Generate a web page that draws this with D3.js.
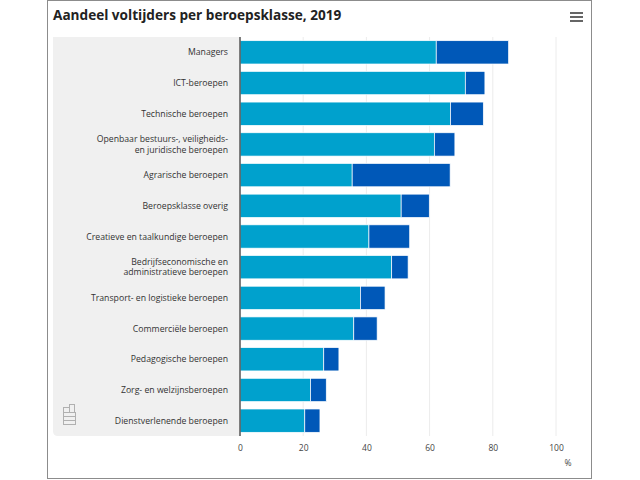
<!DOCTYPE html>
<html>
<head>
<meta charset="utf-8">
<script src="https://cdn.jsdelivr.net/npm/d3@7"></script>
<style>
  body { margin: 0; background: #fff; }
  svg { display: block; font-family: "Open Sans", sans-serif; }
</style>
</head>
<body>
<svg></svg>
<script>
const width = 640
const height = 480

// categories top to bottom
const categories = [
    "Managers",
    "ICT-beroepen",
    "Technische beroepen",
    "Openbaar bestuurs-, veiligheids-|en juridische beroepen",
    "Agrarische beroepen",
    "Beroepsklasse overig",
    "Creatieve en taalkundige beroepen",
    "Bedrijfseconomische en|administratieve beroepen",
    "Transport- en logistieke beroepen",
    "Commerciële beroepen",
    "Pedagogische beroepen",
    "Zorg- en welzijnsberoepen",
    "Dienstverlenende beroepen"
]

// light segment (first series) and dark segment (second series), in %
const series1 = [62.1, 71.3, 66.6, 61.5, 35.5, 51.0, 40.8, 48.0, 38.1, 36.0, 26.5, 22.3, 20.5]
const series2 = [22.9, 6.2, 10.4, 6.5, 31.0, 8.9, 12.9, 5.2, 7.8, 7.4, 4.8, 5.0, 4.8]
const xTicks = [0, 20, 40, 60, 80, 100]

const colors = ["#00a1cd", "#0058b8"]

const marginLeft = 240
const marginRight = 84
const plotTop = 37
const plotBottom = 436

const svg = d3.select("svg")
    .attr("width", width)
    .attr("height", height)

// frame
svg.append("rect")
    .attr("x", 47.5).attr("y", 0.5)
    .attr("width", 544).attr("height", 478)
    .attr("fill", "none")
    .attr("stroke", "#8c8c8c")

// title
svg.append("text")
    .attr("x", 53).attr("y", 20)
    .attr("font-size", "13.6px")
    .attr("font-weight", "bold")
    .attr("fill", "#222")
    .text("Aandeel voltijders per beroepsklasse, 2019")

// menu icon
svg.append("g").selectAll("rect")
    .data([0, 1, 2])
    .join("rect")
    .attr("x", 570).attr("y", d => 12 + d * 4)
    .attr("width", 13).attr("height", 2)
    .attr("fill", "#666")

// category panel
svg.append("path")
    .attr("d", `M53,${plotTop} H${marginLeft} V${plotBottom} H58 Q53,${plotBottom} 53,${plotBottom - 5} Z`)
    .attr("fill", "#f0f0f0")

const x = d3.scaleLinear()
    .domain([0, 100])
    .range([marginLeft, width - marginRight])

const y = d3.scaleBand()
    .domain(categories)
    .range([plotTop, plotBottom])
    .paddingInner(0.24)
    .paddingOuter(0.12)

// grid lines
svg.append("g").selectAll("line")
    .data(xTicks.slice(1))
    .join("line")
    .attr("x1", d => x(d)).attr("x2", d => x(d))
    .attr("y1", plotTop).attr("y2", plotBottom)
    .attr("stroke", "#ececec")

// stacked bars
const rows = categories.map((c, i) => ({cat: c, a: series1[i], b: series2[i]}))
const stack = d3.stack().keys(["a", "b"])(rows)

svg.append("g").selectAll("g")
    .data(stack)
    .join("g")
    .attr("fill", (d, i) => colors[i])
    .selectAll("rect")
    .data(d => d)
    .join("rect")
    .attr("x", d => x(d[0]))
    .attr("y", d => y(d.data.cat))
    .attr("width", d => x(d[1]) - x(d[0]))
    .attr("height", y.bandwidth())
    .attr("stroke", "#fff")
    .attr("stroke-width", 0.7)

// axis line
svg.append("line")
    .attr("x1", marginLeft).attr("x2", marginLeft)
    .attr("y1", plotTop).attr("y2", plotBottom)
    .attr("stroke", "#555")
    .attr("stroke-width", 1.5)

// category labels
const labels = svg.append("g")
    .attr("font-size", "8.7px")
    .attr("fill", "#333")
    .attr("text-anchor", "end")
    .selectAll("text")
    .data(categories)
    .join("text")
    .attr("x", 228)
    .attr("y", d => y(d) + y.bandwidth() / 2)

labels.each(function(d) {
    const parts = d.split("|")
    const t = d3.select(this)
    parts.forEach((p, i) => {
        t.append("tspan")
            .attr("x", 228)
            .attr("dy", i === 0 ? `${0.35 - (parts.length - 1) * 0.6}em` : "1.2em")
            .text(p)
    })
})

// x axis
const xAxis = d3.axisBottom(x).tickValues(xTicks).tickSize(0).tickPadding(6)
const ax = svg.append("g")
    .attr("transform", `translate(0, ${plotBottom + 3})`)
    .call(xAxis)
ax.select(".domain").remove()
ax.selectAll("text")
    .attr("font-family", "Open Sans, sans-serif")
    .attr("font-size", "8.5px")
    .attr("fill", "#444")

svg.append("text")
    .attr("x", 568).attr("y", 466)
    .attr("font-size", "8.5px")
    .attr("fill", "#444")
    .attr("text-anchor", "middle")
    .text("%")

// logo icon in the panel corner
const logo = svg.append("g").attr("fill", "none").attr("stroke", "#b0b0b0")
logo.append("rect").attr("x", 63.5).attr("y", 412.5).attr("width", 12).attr("height", 12)
logo.append("rect").attr("x", 63.5).attr("y", 407.5).attr("width", 6).attr("height", 5)
logo.append("rect").attr("x", 69.5).attr("y", 404.5).attr("width", 5).attr("height", 8)
logo.append("line").attr("x1", 63.5).attr("x2", 75.5).attr("y1", 416.5).attr("y2", 416.5)
logo.append("line").attr("x1", 63.5).attr("x2", 75.5).attr("y1", 420.5).attr("y2", 420.5)
</script>
</body>
</html>
